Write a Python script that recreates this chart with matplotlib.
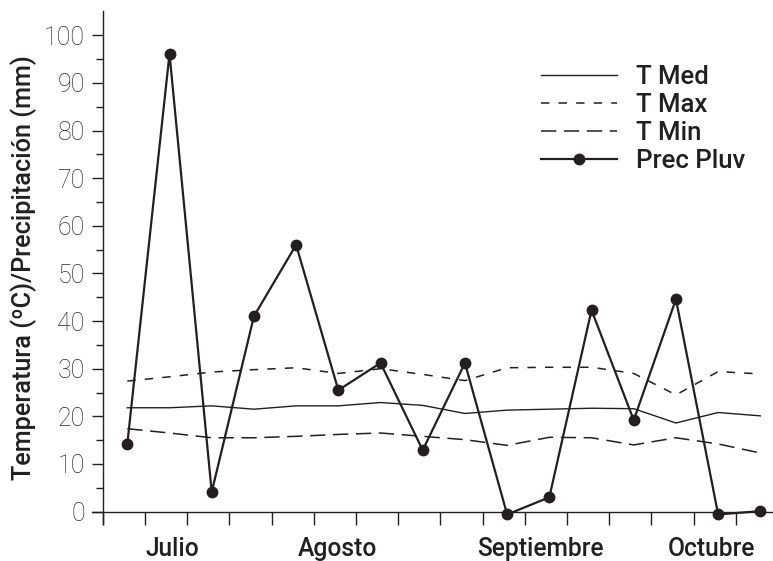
import numpy as np
import matplotlib
matplotlib.use("Agg")
import matplotlib.pyplot as plt

# Datos semanales (julio - octubre)
semanas = list(range(1, 17))
t_med = [21.8, 21.8, 22.2, 21.5, 22.2, 22.2, 22.9, 22.3, 20.6, 21.3, 21.5, 21.7, 21.6, 18.6, 20.8, 20.1]
t_max = [27.4, 28.3, 29.3, 29.8, 30.2, 29.0, 30.0, 28.8, 27.5, 30.2, 30.3, 30.3, 29.0, 24.5, 29.4, 28.9]
t_min = [17.4, 16.5, 15.5, 15.5, 15.8, 16.2, 16.5, 15.8, 15.1, 13.9, 15.6, 15.5, 14.0, 15.5, 14.2, 12.3]
prec = [14.2, 96.1, 4.1, 41.0, 56.0, 25.5, 31.2, 12.9, 31.2, -0.6, 3.0, 42.3, 19.2, 44.6, -0.6, 0.1]

meses = ["Julio", "Agosto", "Septiembre", "Octubre"]
pos_meses = [2.07, 5.97, 10.78, 14.83]

negro = "#231f20"
plt.rcParams['font.family'] = ['Roboto', 'DejaVu Sans']

fig = plt.figure(figsize=(7.73, 5.61), dpi=100)
ax = fig.add_axes([0.119, 0.066, 0.881, 0.9144])

ax.plot(semanas, t_med, color=negro, lw=1.0, label="T Med")
ax.plot(semanas, t_max, color=negro, lw=1.1, linestyle=(0, (5.5, 6)), label="T Max")
ax.plot(semanas, t_min, color=negro, lw=1.1, linestyle=(0, (10, 5)), label="T Min")
ax.plot(semanas, prec, color=negro, lw=1.6, marker='o', markersize=7.5, label="Prec Pluv",
        clip_on=False, zorder=5)

ax.set_xlim(0.163, 16.3)
ax.set_ylim(-2.6, 105.1)

ax.spines['right'].set_visible(False)
ax.spines['top'].set_visible(False)
ax.spines['left'].set_position(('data', 0.42))
ax.spines['bottom'].set_position(('data', 0))
for s in ['left', 'bottom']:
    ax.spines[s].set_color(negro)
    ax.spines[s].set_linewidth(1.0)

# eje y
ax.set_yticks(np.arange(0, 101, 10))
ax.set_yticks(np.arange(5, 100, 10), minor=True)
ax.tick_params(axis='y', which='major', length=8, width=1, color=negro, pad=5,
               labelsize=18, labelcolor="#2a2a2a")
ax.tick_params(axis='y', which='minor', length=5, width=1, color=negro)
for t in ax.get_yticklabels():
    t.set_fontweight('light')

# eje x: marcas semanales y meses
ax.set_xticks(np.arange(16) + 0.42)
ax.set_xticklabels([])
ax.set_xticks(pos_meses, minor=True)
ax.set_xticklabels(meses, minor=True, fontsize=17.7, fontweight='medium', color=negro)
ax.tick_params(axis='x', which='major', length=9, width=1, color=negro)
ax.tick_params(axis='x', which='minor', length=0, pad=18)

ax.set_ylabel("Temperatura (ºC)/Precipitación (mm)", fontsize=18.2, fontweight='medium',
              color=negro, labelpad=5)

ax.legend(loc='upper left', bbox_to_anchor=(541 / 773, 1 - 65 / 561),
          bbox_transform=fig.transFigure, frameon=False,
          prop={'weight': 'medium', 'size': 18.5}, handlelength=2.95, handletextpad=0.75,
          labelspacing=0.16, borderpad=0, borderaxespad=0)
for t in ax.get_legend().get_texts():
    t.set_color(negro)

fig.savefig("out.png", dpi=100)
